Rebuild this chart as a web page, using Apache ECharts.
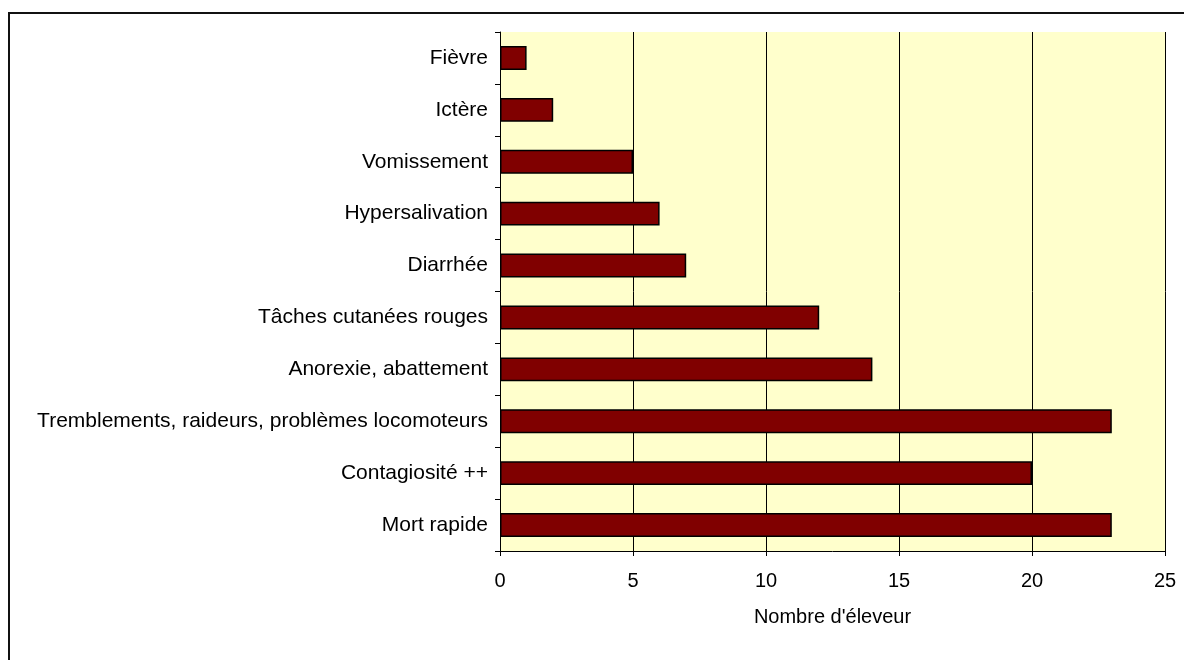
<!DOCTYPE html>
<html>
<head>
<meta charset="utf-8">
<script src="https://cdn.jsdelivr.net/npm/echarts@6/dist/echarts.min.js"></script>
<style>
html,body{margin:0;padding:0;background:#fff;}
#chart{width:1184px;height:660px;}
</style>
</head>
<body>
<div id="chart"></div>
<script>
const categories = ["Mort rapide","Contagiosité ++","Tremblements, raideurs, problèmes locomoteurs","Anorexie, abattement","Tâches cutanées rouges","Diarrhée","Hypersalivation","Vomissement","Ictère","Fièvre"];
const values = [23,20,23,14,12,7,6,5,2,1];
const xTicks = [0,5,10,15,20,25];
const xAxisName = "Nombre d'éleveur";

const chart = echarts.init(document.getElementById('chart'), null, {renderer:'canvas'});
const font = 'Liberation Sans, Arial, sans-serif';
chart.setOption({
  animation:false,
  backgroundColor:'#ffffff',
  graphic:[{
    type:'rect', shape:{x:9,y:13,width:1200,height:700},
    style:{fill:'none',stroke:'#111',lineWidth:2}, silent:true, z:-10
  }],
  grid:{left:500,right:19,top:32,bottom:109,show:true,backgroundColor:'#FFFFCC',borderWidth:0},
  xAxis:{
    type:'value',min:xTicks[0],max:xTicks[xTicks.length-1],interval:5,
    name:xAxisName,nameLocation:'middle',nameGap:56,
    nameTextStyle:{color:'#000',fontFamily:font,fontSize:20},
    axisLine:{show:true,lineStyle:{color:'#000',width:1}},
    axisTick:{show:true,length:5,lineStyle:{color:'#000'}},
    axisLabel:{color:'#000',fontFamily:font,fontSize:20,margin:20},
    splitLine:{show:true,lineStyle:{color:'#000',width:1}}
  },
  yAxis:{
    type:'category',data:categories,
    axisLine:{show:true,lineStyle:{color:'#000',width:1}},
    axisTick:{show:true,length:5,lineStyle:{color:'#000'}},
    axisLabel:{color:'#000',fontFamily:font,fontSize:21,margin:12},
    splitLine:{show:false}
  },
  series:[{
    type:'bar',data:values,barWidth:'46%',
    itemStyle:{color:'#800000',borderColor:'#000',borderWidth:1.5}
  }]
});
</script>
</body>
</html>
